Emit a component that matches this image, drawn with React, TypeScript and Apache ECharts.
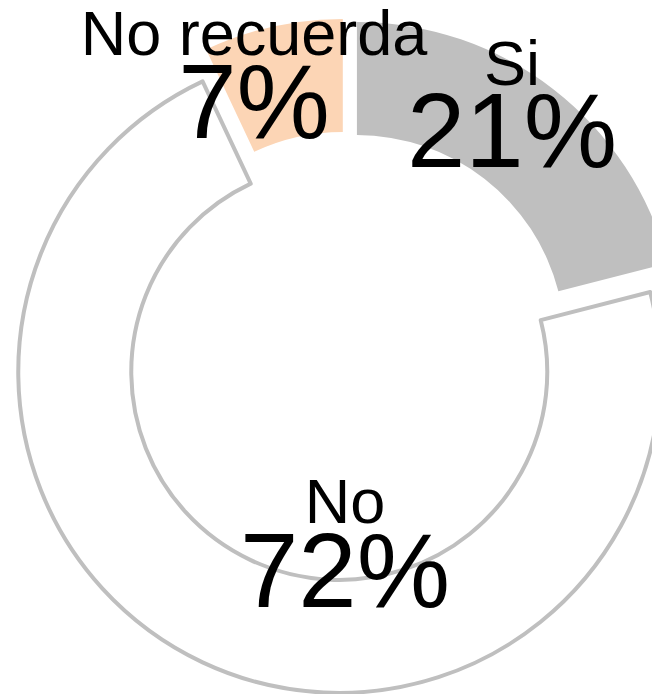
import React, { useEffect, useRef } from "react";
import * as echarts from "echarts";

// ---- data ----
const categories = ["Si", "No", "No recuerda"];
const values = [21, 72, 7];
const percentLabels = ["21%", "72%", "7%"];

// ---- styles / layout ----
const fillColors = ["#bfbfbf", "#ffffff", "#fcd5b5"];
const borderColors = ["#bfbfbf", "#bfbfbf", "#fcd5b5"];
const borderWidths = [0, 4, 0];
const labelLayout = [
  { x: 512, nameY: 63, valueY: 130 },
  { x: 345, nameY: 501, valueY: 570 },
  { x: 254, nameY: 33, valueY: 101 },
];
const CENTER_X = 346.5;
const CENTER_Y = 356.5;
const EXPLODE = 17;
const RADII = [208, 321];
const FONT = '"Liberation Sans", Arial, Helvetica, sans-serif';

export default function App() {
  const ref = useRef<HTMLDivElement>(null);

  useEffect(() => {
    if (!ref.current) return;
    const chart = echarts.init(ref.current, undefined, { renderer: "svg" });
    const total = values.reduce((a, b) => a + b, 0);
    let cum = 0;
    const series = values.map((v, i) => {
      const startDeg = (cum / total) * 360;
      cum += v;
      const midDeg = startDeg + (v / total) * 180;
      const rad = (midDeg * Math.PI) / 180;
      const cx = CENTER_X + EXPLODE * Math.sin(rad);
      const cy = CENTER_Y - EXPLODE * Math.cos(rad);
      return {
        type: "pie",
        center: [cx, cy],
        radius: RADII,
        startAngle: 90 - startDeg,
        clockwise: true,
        silent: true,
        avoidLabelOverlap: false,
        label: { show: false },
        labelLine: { show: false },
        emphasis: { disabled: true },
        data: [
          {
            value: v,
            name: categories[i],
            itemStyle: {
              color: fillColors[i],
              borderColor: borderColors[i],
              borderWidth: borderWidths[i],
            },
          },
          {
            value: total - v,
            name: "_rest" + i,
            itemStyle: { color: "rgba(0,0,0,0)", borderWidth: 0 },
          },
        ],
      };
    });

    const graphic: any[] = [];
    categories.forEach((c, i) => {
      graphic.push({
        type: "text",
        x: labelLayout[i].x,
        y: labelLayout[i].nameY,
        z: 100,
        silent: true,
        style: {
          text: c,
          fill: "#000000",
          fontSize: 63,
          lineHeight: 58,
          fontFamily: FONT,
          align: "center",
          verticalAlign: "middle",
        },
      });
      graphic.push({
        type: "text",
        x: labelLayout[i].x,
        y: labelLayout[i].valueY,
        z: 100,
        silent: true,
        style: {
          text: percentLabels[i],
          fill: "#000000",
          fontSize: 105,
          lineHeight: 96,
          fontFamily: FONT,
          align: "center",
          verticalAlign: "middle",
        },
      });
    });

    chart.setOption({
      animation: false,
      backgroundColor: "#ffffff",
      series,
      graphic,
    } as any);

    return () => chart.dispose();
  }, []);

  return (
    <div
      ref={ref}
      style={{ position: "fixed", left: 0, top: 0, width: 652, height: 694 }}
    />
  );
}
